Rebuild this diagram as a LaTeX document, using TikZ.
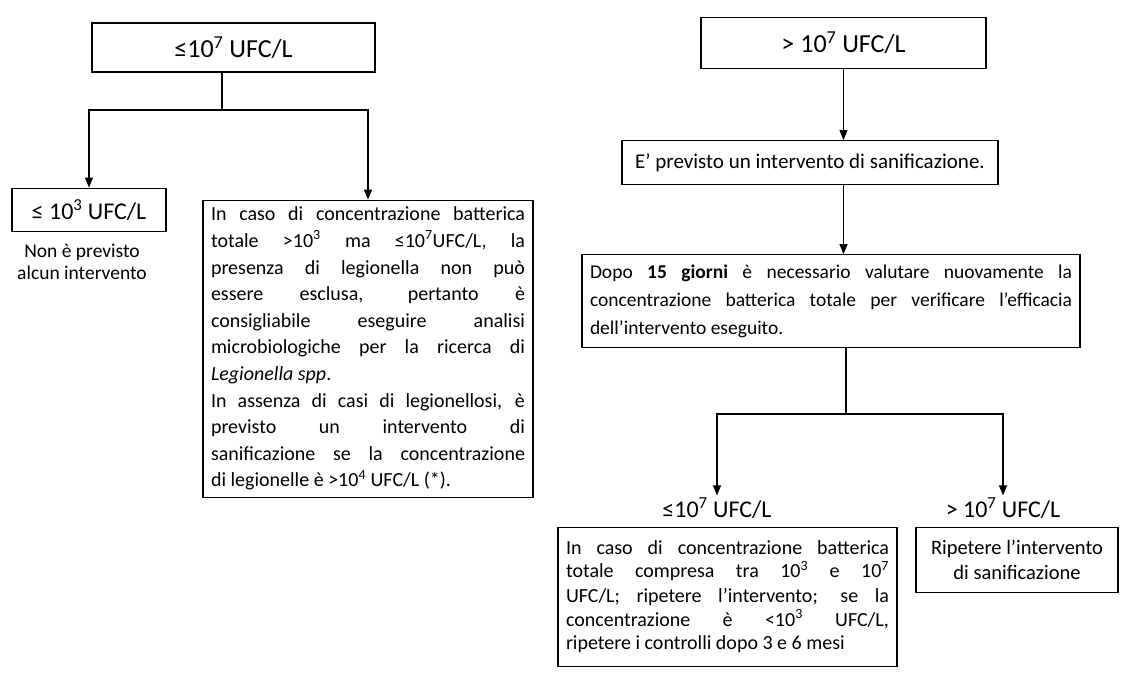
\documentclass[tikz,border=0pt]{standalone}
\usepackage{fontspec}
\setmainfont{Carlito}
\usetikzlibrary{arrows.meta,positioning}
\newcommand{\dieci}[1]{10\textsuperscript{#1}}
\tolerance=10000
\hyphenpenalty=10000
\tikzset{
box/.style={draw,line width=1.1pt,inner sep=0pt,align=center},
textbox/.style={draw,line width=1.1pt,inner xsep=8pt,inner ysep=4pt,align=justify},
level/.style={inner sep=2pt,align=center,font=\fontsize{24}{28}\selectfont},
flow/.style={-{Stealth[length=10pt,width=8pt,inset=0pt]},line width=1.1pt},
link/.style={line width=1.1pt}
}
\begin{document}
\begin{tikzpicture}[x=1pt,y=1pt,font=\fontsize{20}{24}\selectfont]
\useasboundingbox (0,0) rectangle (1125,-677);
% left branch
\node[box,minimum width=283pt,minimum height=49pt,font=\fontsize{26}{30}\selectfont](low) at (233.5,-47.5){≤\dieci{7} UFC/L};
\node[box,minimum width=154pt,minimum height=43pt,font=\fontsize{24}{28}\selectfont,below=115pt of low,xshift=-144.5pt](low3){≤ \dieci{3} UFC/L};
\node[below=9pt of low3,xshift=-7pt,align=center,font=\fontsize{19.5}{22}\selectfont](none){Non è previsto\\alcun intervento};
\node[textbox,text width=314pt,minimum height=297pt,below=127pt of low,xshift=134.5pt,font=\fontsize{20}{26.6}\selectfont](legio){In caso di concentrazione batterica\linebreak
totale >\dieci{3} ma ≤\dieci{7}UFC/L, la\linebreak
presenza di legionella non può\linebreak
essere esclusa, pertanto è\linebreak
consigliabile eseguire analisi\linebreak
microbiologiche per la ricerca di\linebreak
\textit{Legionella spp}.\\
In assenza di casi di legionellosi, è\linebreak
previsto un intervento di\linebreak
sanificazione se la concentrazione\linebreak
di legionelle è >\dieci{4} UFC/L (*).};
\coordinate (lsplit) at (222,-110);
\draw[link](low.south -| lsplit)--(lsplit);
\draw[flow](lsplit)-|(low3.north);
\draw[flow](lsplit)-|(legio.north);
% right branch
\node[box,minimum width=285pt,minimum height=51pt,font=\fontsize{26}{30}\selectfont](high) at (843.5,-43){> \dieci{7} UFC/L};
\node[box,minimum width=376pt,minimum height=44pt,font=\fontsize{21}{24}\selectfont,below=71pt of high,xshift=-33.5pt](sani){E’ previsto un intervento di sanificazione.};
\node[textbox,text width=482pt,minimum height=93pt,below=69pt of sani,xshift=21pt,font=\fontsize{19.5}{28}\selectfont](check){Dopo \textbf{15 giorni} è necessario valutare nuovamente la\linebreak
concentrazione batterica totale per verificare l’efficacia\linebreak
dell’intervento eseguito.};
\coordinate (rsplit) at (846,-414);
\node[level](ok) at (717,-508){≤\dieci{7} UFC/L};
\node[level](still) at (1003,-508){> \dieci{7} UFC/L};
\node[textbox,text width=323pt,minimum height=139pt,below=6pt of ok,xshift=10.5pt](repeat){In caso di concentrazione batterica\linebreak
totale compresa tra \dieci{3} e \dieci{7}\linebreak
UFC/L; ripetere l’intervento; se la\linebreak
concentrazione è <\dieci{3} UFC/L,\linebreak
ripetere i controlli dopo 3 e 6 mesi};
\node[box,minimum width=202pt,minimum height=65pt,below=6pt of still,xshift=14pt,font=\fontsize{20.5}{25}\selectfont](again){Ripetere l’intervento\\di sanificazione};
\draw[flow](high)--(high |- sani.north);
\draw[flow](high |- sani.south)--(high |- check.north);
\draw[link](rsplit |- check.south)--(rsplit);
\draw[flow](rsplit)-|(ok.north);
\draw[flow](rsplit)-|(still.north);
\end{tikzpicture}
\end{document}
